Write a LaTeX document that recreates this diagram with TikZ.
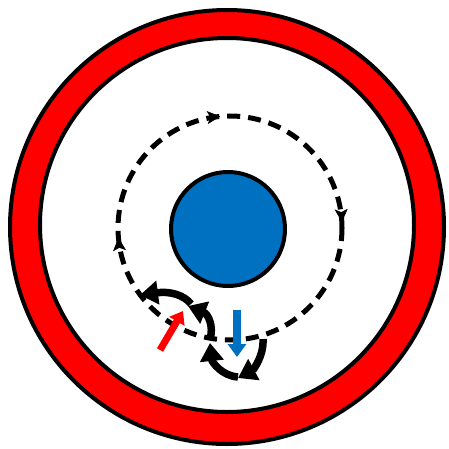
\documentclass[tikz,border=0pt]{standalone}
\usetikzlibrary{arrows.meta}
\definecolor{ringred}{HTML}{FF0000}
\definecolor{coreblue}{HTML}{0070C0}
\begin{document}
\begin{tikzpicture}[x=1pt,y=1pt,
  outline/.style={draw=black,line width=4pt},
  flowdash/.style={line width=5pt,dash pattern=on 13pt off 8pt},
  vortex/.style={line width=7.5pt,-{Triangle[length=18pt,width=23pt]}},
  flowtip/.style={line width=0.5pt,-{Stealth[length=13pt,width=13pt,inset=3pt]}}
]
\useasboundingbox (0,0) rectangle (449,448);
% outer ring
\fill[ringred] (227,221) circle[radius=217];
\draw[outline] (227,221) circle[radius=217];
\fill[white] (227,223) circle[radius=187];
\draw[outline] (227,223) circle[radius=187];
% dashed circulation
\coordinate (dc) at (230,220);
\draw[flowdash] (dc) ++(0:112) arc[start angle=0,end angle=-360,radius=112];
\draw[flowtip] (dc) ++(97:112) arc[start angle=97,end angle=95,radius=112];
\draw[flowtip] (dc) ++(5:112) arc[start angle=5,end angle=3,radius=112];
\draw[flowtip] (dc) ++(187:112) arc[start angle=187,end angle=185,radius=112];
% central core
\node[circle,fill=coreblue,draw=black,line width=4pt,minimum size=114pt,inner sep=0pt] (core) at (228,219) {};
% left vortex (counter-clockwise)
\draw[vortex] (191,144) .. controls (184,153) and (170,157) .. (140,153);
\draw[vortex] (210,109) .. controls (214,122) and (208,134) .. (188,142);
% right vortex (clockwise)
\draw[vortex] (263,109) .. controls (264,92) and (253,78) .. (238,70);
\draw[vortex] (238,71) .. controls (222,72) and (212,86) .. (210,105);
% red and blue arrows
\coordinate (rs) at (160,98);
\coordinate (re) at (183,137);
\draw[ringred,line width=7pt,-{Triangle[length=12pt,width=17pt]}] (rs) -- (re);
\coordinate (bs) at (237,138);
\coordinate (be) at (237,91);
\draw[coreblue,line width=8pt,-{Triangle[length=13pt,width=18pt]}] (bs) -- (be);
\end{tikzpicture}
\end{document}
